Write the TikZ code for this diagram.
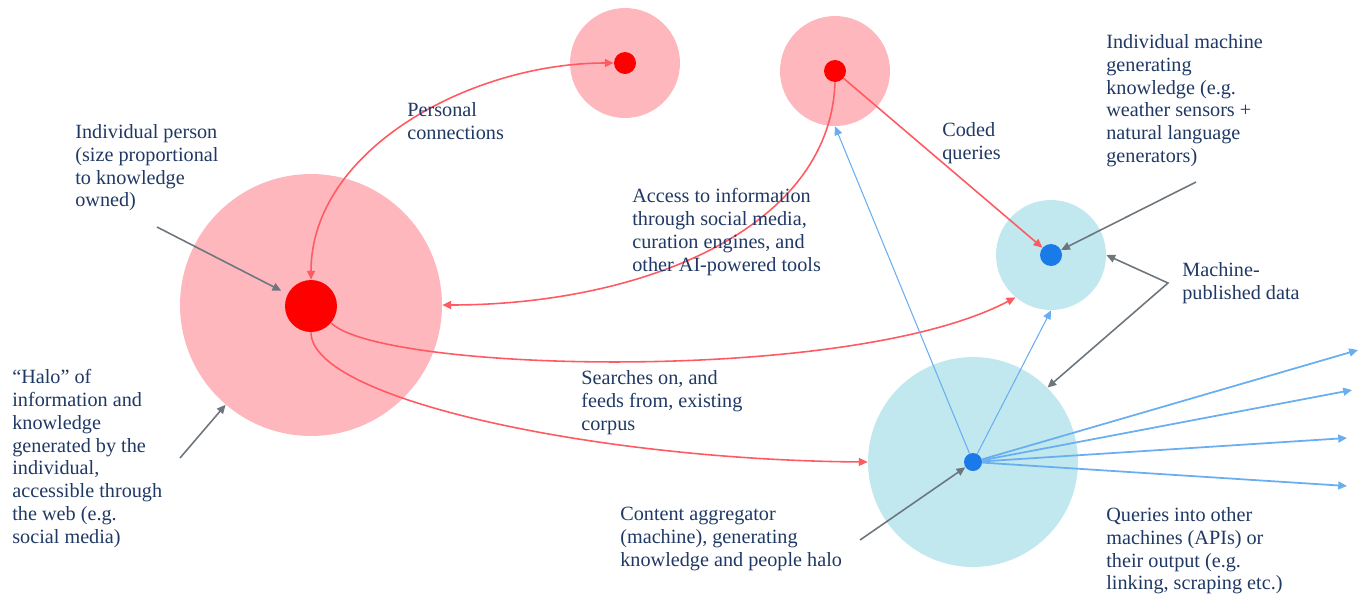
\documentclass[tikz,border=0pt]{standalone}
\usepackage{fontspec}
\setmainfont{Liberation Serif}
\usetikzlibrary{arrows.meta}
\definecolor{halopink}{HTML}{FFB7BE}
\definecolor{halocyan}{HTML}{C0E8EE}
\definecolor{dotblue}{HTML}{1A7AE8}
\definecolor{linered}{HTML}{FF5A62}
\definecolor{lineblue}{HTML}{6AAEF2}
\definecolor{linegray}{HTML}{6E767D}
\definecolor{textblue}{HTML}{1F3864}
\tikzset{
  blob/.style={circle, fill=#1, inner sep=0},
  lbl/.style={anchor=north west, align=left, inner sep=0, text=textblue, font=\fontsize{11.5}{13}\selectfont},
  arr/.style={-{Triangle[length=5pt,width=4.5pt]}},
  redline/.style={draw=linered, line width=0.9pt},
  blueline/.style={draw=lineblue, line width=#1},
  grayline/.style={draw=linegray, line width=0.9pt}
}
\begin{document}
\begin{tikzpicture}[x=0.02cm, y=-0.02cm]
\useasboundingbox (0,0) rectangle (1363,596);

\node[blob=halopink, minimum size=5.24cm] (perhalo) at (311,305) {};
\node[blob=red, minimum size=1.04cm] (me) at (311,306) {};
\node[blob=halopink, minimum size=2.2cm] (p1halo) at (625,63) {};
\node[blob=red, minimum size=0.44cm] (p1) at (625,63) {};
\node[blob=halopink, minimum size=2.2cm] (p2halo) at (835,71) {};
\node[blob=red, minimum size=0.44cm] (p2) at (835,71) {};
\node[blob=halocyan, minimum size=2.2cm] (mhalo) at (1051,255) {};
\node[blob=dotblue, minimum size=0.44cm] (mdot) at (1051,255) {};
\node[blob=halocyan, minimum size=4.2cm] (aghalo) at (973,462) {};
\node[blob=dotblue, minimum size=0.36cm] (agdot) at (973,462) {};

\coordinate (q1) at (1358,350);
\coordinate (q2) at (1352,390);
\coordinate (q3) at (1347,438);
\coordinate (q4) at (1347,486);
\coordinate (a1) at (157,227);
\coordinate (a2) at (180,458);
\coordinate (a3) at (1196,182);
\coordinate (a4) at (1168,283);
\coordinate (a5) at (860,540);

\draw[redline, {Triangle[length=5pt,width=4.5pt]}-{Triangle[length=5pt,width=4.5pt]}] (me.north) .. controls (311,150) and (470,63) .. (p1.west);
\draw[redline, arr] (p2.south) .. controls (830,230) and (640,305) .. (perhalo.east);
\draw[redline, arr] (p2) -- (mdot);
\draw[redline, arr] (me.-40) .. controls (380,372) and (850,385) .. (mhalo.-130);
\draw[redline, arr] (me.south) .. controls (311,400) and (600,460) .. (aghalo.west);

\draw[blueline=0.6pt, arr] (agdot) -- (p2halo.south);
\draw[blueline=0.6pt, arr] (agdot) -- (mhalo.south);
\foreach \q in {q1,q2,q3,q4}
  \draw[blueline=1pt, arr] (agdot) -- (\q);

\draw[grayline, arr, shorten >=4pt] (a1) -- (me);
\draw[grayline, arr] (a2) -- (perhalo);
\draw[grayline, arr] (a3) -- (mdot);
\draw[grayline, {Triangle[length=5pt,width=4.5pt]}-{Triangle[length=5pt,width=4.5pt]}] (mhalo.east) -- (a4) -- (aghalo.45);
\draw[grayline, arr] (a5) -- (agdot);

\node[lbl] (tperson) at (75,124) {Individual person\\(size proportional\\to knowledge\\owned)};
\node[lbl] (thalo) at (12,369) {“Halo” of\\information and\\knowledge\\generated by the\\individual,\\accessible through\\the web (e.g.\\social media)};
\node[lbl] (tpersonal) at (407,102) {Personal\\connections};
\node[lbl] (taccess) at (632,188) {Access to information\\through social media,\\curation engines, and\\other AI-powered tools};
\node[lbl] (tcoded) at (942,122) {Coded\\queries};
\node[lbl] (tmachine) at (1106,34) {Individual machine\\generating\\knowledge (e.g.\\weather sensors +\\natural language\\generators)};
\node[lbl] (tpublished) at (1182,262) {Machine-\\published data};
\node[lbl] (tsearch) at (581,370) {Searches on, and\\feeds from, existing\\corpus};
\node[lbl] (taggr) at (620,507) {Content aggregator\\(machine), generating\\knowledge and people halo};
\node[lbl] (tqueries) at (1106,507) {Queries into other\\machines (APIs) or\\their output (e.g.\\linking, scraping etc.)};

\end{tikzpicture}
\end{document}
